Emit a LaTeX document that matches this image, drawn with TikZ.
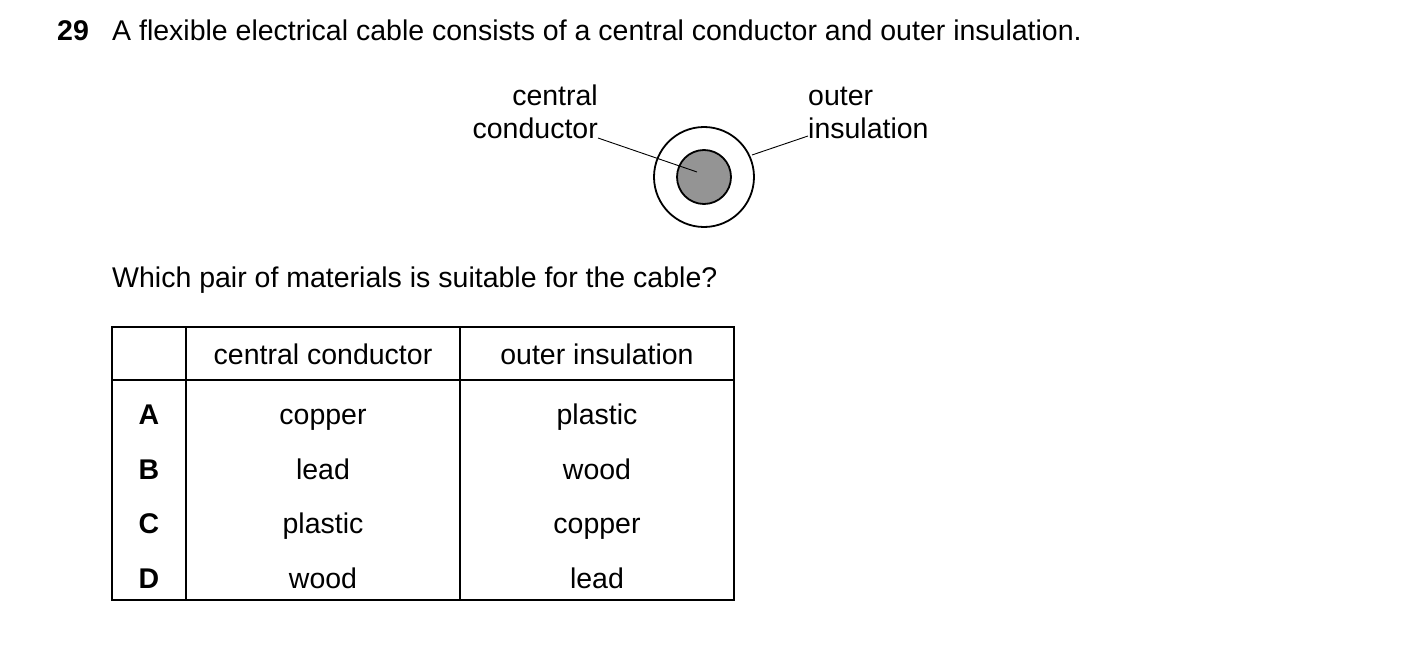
\documentclass[tikz,border=0pt]{standalone}
\usepackage{fontspec}
\setmainfont{Liberation Sans}
\begin{document}
\begin{tikzpicture}[x=1pt,y=-1pt,
  txt/.style={font=\fontsize{28.5}{34}\selectfont,inner sep=0pt},
  cel/.style={txt,anchor=base},
  ln/.style={line width=1.2pt}]
\useasboundingbox (0,0) rectangle (1403,650);
\node[txt,anchor=base west,font=\fontsize{28.5}{34}\selectfont\bfseries] (n) at (57,41) {29};
\node[txt,anchor=base west] (q) at (112,41) {A flexible electrical cable consists of a central conductor and outer insulation.};
\node[txt,anchor=base east] (c1) at (598,106) {central};
\node[txt,anchor=base east] (c2) at (598,139) {conductor};
\node[txt,anchor=base west] (o1) at (808,106) {outer};
\node[txt,anchor=base west] (o2) at (808,139) {insulation};
\draw[line width=1.8pt] (704,177) circle (50);
\draw[line width=1.8pt,fill=black!42] (704,177) circle (27);
\coordinate (a1) at (598,138); \coordinate (a2) at (697,172);
\coordinate (b1) at (752,155); \coordinate (b2) at (808,136);
\draw[line width=0.9pt] (a1) -- (a2);
\draw[line width=0.9pt] (b1) -- (b2);
\node[txt,anchor=base west] (w) at (112,287) {Which pair of materials is suitable for the cable?};
\draw[ln] (112,327) rectangle (734,600);
\draw[ln] (112,380) -- (734,380);
\draw[ln] (186,327) -- (186,600);
\draw[ln] (460,327) -- (460,600);
\node[cel] (h1) at (323,364) {central conductor};
\node[cel] (h2) at (597,364) {outer insulation};
\foreach \y/\l/\a/\b in {424/A/copper/plastic,479/B/lead/wood,533/C/plastic/copper,588/D/wood/lead}{
  \node[cel,font=\fontsize{28.5}{34}\selectfont\bfseries] at (149,\y) {\l};
  \node[cel] at (323,\y) {\a};
  \node[cel] at (597,\y) {\b};
}
\end{tikzpicture}
\end{document}
